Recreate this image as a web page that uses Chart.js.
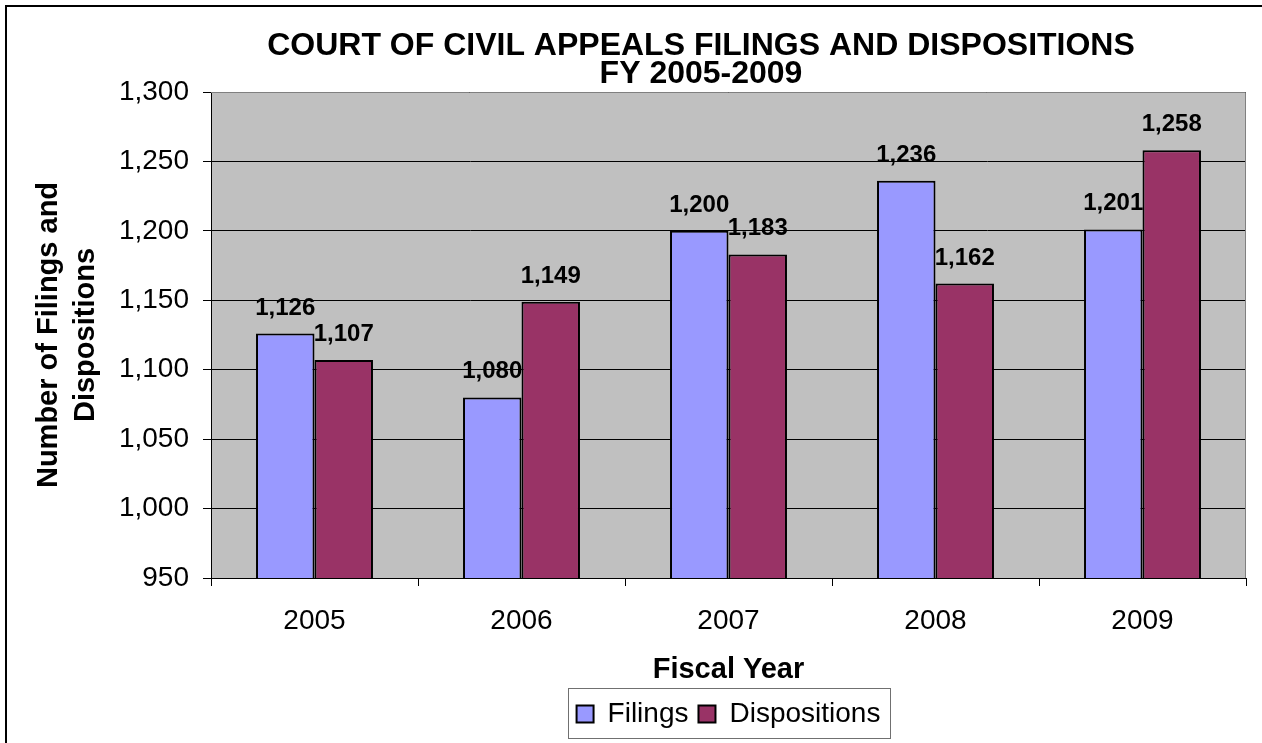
<!DOCTYPE html>
<html>
<head>
<meta charset="utf-8">
<script src="https://cdn.jsdelivr.net/npm/chart.js@4"></script>
<style>
  html, body { margin: 0; padding: 0; background: #fff; }
  canvas { display: block; }
</style>
</head>
<body>
<canvas id="appealsChart" width="1262" height="743"></canvas>
<script>
// Court of Civil Appeals, fiscal years 2005-2009
const years = ['2005', '2006', '2007', '2008', '2009'];
const filings = [1126, 1080, 1200, 1236, 1201];
const dispositions = [1107, 1149, 1183, 1162, 1258];

const yMin = 950;
const yMax = 1300;
const yStep = 50;

const titleLines = ['COURT OF CIVIL APPEALS FILINGS AND DISPOSITIONS', 'FY 2005-2009'];
const yTitle = ['Number of Filings and', 'Dispositions'];
const xTitle = 'Fiscal Year';

const FONT = '"Liberation Sans", Arial, Helvetica, sans-serif';

// gray plot background, frame, outer border, title and legend box
const decorPlugin = {
    id: 'decor',
    beforeDraw(chart) {
        const ctx = chart.ctx;
        const a = chart.chartArea;
        ctx.save();
        ctx.fillStyle = '#fff';
        ctx.fillRect(0, 0, chart.width, chart.height);
        ctx.fillStyle = '#c0c0c0';
        ctx.fillRect(a.left, a.top, a.right - a.left, a.bottom - a.top);
        ctx.restore();
    },
    afterDraw(chart) {
        const ctx = chart.ctx;
        const a = chart.chartArea;
        ctx.save();
        // top and right edge of the plot
        ctx.strokeStyle = '#808080';
        ctx.lineWidth = 1;
        ctx.beginPath();
        ctx.moveTo(a.left, a.top + 0.5);
        ctx.lineTo(a.right - 0.5, a.top + 0.5);
        ctx.lineTo(a.right - 0.5, a.bottom);
        ctx.stroke();

        // outer border (only left and top are visible in the original)
        ctx.strokeStyle = '#000';
        ctx.lineWidth = 2;
        ctx.beginPath();
        ctx.moveTo(6, chart.height);
        ctx.lineTo(6, 6);
        ctx.lineTo(chart.width, 6);
        ctx.stroke();

        // title
        ctx.fillStyle = '#000';
        ctx.font = 'bold 32px ' + FONT;
        ctx.textAlign = 'center';
        ctx.textBaseline = 'alphabetic';
        ctx.fillText(titleLines[0], 701, 55);
        ctx.fillText(titleLines[1], 701, 83);

        // legend frame
        const boxes = chart.legend.legendHitBoxes;
        if (boxes && boxes.length) {
            const first = boxes[0];
            const last = boxes[boxes.length - 1];
            const cy = first.top + first.height / 2;
            ctx.strokeStyle = '#707070';
            ctx.lineWidth = 1;
            ctx.strokeRect(Math.round(first.left - 9) + 0.5, Math.round(cy - 26) + 0.5,
                Math.round(last.left + last.width - first.left + 18), 50);
        }
        ctx.restore();
    }
};

// value labels above each bar
const valueLabels = {
    id: 'valueLabels',
    afterDatasetsDraw(chart) {
        const ctx = chart.ctx;
        ctx.save();
        ctx.fillStyle = '#000';
        ctx.font = 'bold 24px ' + FONT;
        ctx.textAlign = 'center';
        ctx.textBaseline = 'alphabetic';
        chart.data.datasets.forEach((ds, i) => {
            chart.getDatasetMeta(i).data.forEach((bar, j) => {
                ctx.fillText(ds.data[j].toLocaleString('en-US'), bar.x, bar.y - 19);
            });
        });
        ctx.restore();
    }
};

const ctx = document.getElementById('appealsChart').getContext('2d');
new Chart(ctx, {
    type: 'bar',
    data: {
        labels: years,
        datasets: [{
            label: 'Filings',
            data: filings,
            backgroundColor: '#9999ff',
            borderColor: '#000',
            borderWidth: 2
        }, {
            label: 'Dispositions',
            data: dispositions,
            backgroundColor: '#993366',
            borderColor: '#000',
            borderWidth: 2
        }]
    },
    options: {
        responsive: false,
        animation: false,
        devicePixelRatio: 1,
        layout: {
            padding: { left: 8, right: 16, top: 92, bottom: 5 }
        },
        datasets: {
            bar: { categoryPercentage: 0.565, barPercentage: 1 }
        },
        plugins: {
            title: { display: false },
            tooltip: { enabled: false },
            legend: {
                position: 'bottom',
                fullSize: false,
                labels: {
                    color: '#000',
                    font: { family: FONT, size: 28 },
                    boxWidth: 17,
                    boxHeight: 17,
                    padding: 10
                }
            }
        },
        scales: {
            y: {
                min: yMin,
                max: yMax,
                afterFit: scale => { scale.width = 203; },
                ticks: {
                    stepSize: yStep,
                    color: '#000',
                    padding: 14,
                    font: { family: FONT, size: 28 },
                    callback: v => v.toLocaleString('en-US')
                },
                grid: {
                    color: '#000',
                    lineWidth: 1,
                    tickLength: 8
                },
                border: { color: '#000', width: 1 },
                title: {
                    display: true,
                    text: yTitle,
                    color: '#000',
                    font: { family: FONT, size: 29, weight: 'bold', lineHeight: 1.28 },
                    padding: { top: 22, bottom: 0 }
                }
            },
            x: {
                afterFit: scale => { scale.height = 112; },
                ticks: {
                    color: '#000',
                    padding: 18,
                    font: { family: FONT, size: 28 }
                },
                grid: {
                    color: '#000',
                    drawOnChartArea: false,
                    tickLength: 8,
                    offset: true
                },
                border: { color: '#000', width: 1 },
                title: {
                    display: true,
                    text: xTitle,
                    color: '#000',
                    font: { family: FONT, size: 29, weight: 'bold' },
                    padding: { top: 0, bottom: 3 }
                }
            }
        }
    },
    plugins: [decorPlugin, valueLabels]
});
</script>
</body>
</html>
